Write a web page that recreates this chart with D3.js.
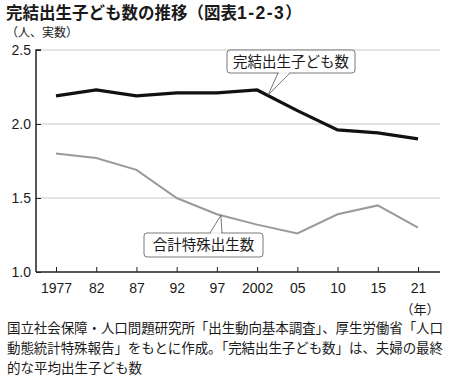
<!DOCTYPE html>
<html>
<head>
<meta charset="utf-8">
<script src="https://cdn.jsdelivr.net/npm/d3@7"></script>
<style>
  body { margin: 0; background: #fff; }
  text { font-family: "Liberation Sans", "Noto Sans CJK JP", sans-serif; fill: #1a1a1a; }
  .jp { font-family: "Noto Sans CJK JP", sans-serif; }
</style>
</head>
<body>
<div id="chart"></div>
<script>
// data
const years = ["1977", "82", "87", "92", "97", "2002", "05", "10", "15", "21"];
const completedFertility = [2.19, 2.23, 2.19, 2.21, 2.21, 2.23, 2.09, 1.96, 1.94, 1.90];
const totalFertility = [1.80, 1.77, 1.69, 1.50, 1.39, 1.32, 1.26, 1.39, 1.45, 1.30];
const yTicks = [1.0, 1.5, 2.0, 2.5];
const noteLines = [
  "国立社会保障・人口問題研究所「出生動向基本調査」、厚生労働省「人口",
  "動態統計特殊報告」をもとに作成。「完結出生子ども数」は、夫婦の最終",
  "的な平均出生子ども数"
];

var width = 450, height = 376;
var svg = d3.select("#chart").append("svg")
    .attr("width", width)
    .attr("height", height);

let x = d3.scalePoint().domain(years).range([56, 418]);
let y = d3.scaleLinear().domain([1.0, 2.5]).range([272, 50]);
let axisLeft = 36, axisRight = 440;

// title
let title = svg.append("text")
    .attr("class", "jp")
    .attr("x", 6).attr("y", 19)
    .style("font-size", "16.5px")
    .style("font-weight", "bold");
title.append("tspan").text("完結出生子ども数の推移（図表");
title.append("tspan").style("font-family", "Liberation Sans").style("font-size", "17.5px")
    .attr("letter-spacing", "1.5").text("1-2-3");
title.append("tspan").text("）");
svg.append("text")
    .attr("class", "jp")
    .attr("x", 6).attr("y", 37)
    .style("font-size", "12px")
    .text("（人、実数）");

// gridlines
svg.selectAll(".grid")
    .data(yTicks.filter(d => d > 1.0))
    .enter().append("line")
    .attr("x1", axisLeft).attr("x2", axisRight)
    .attr("y1", d => y(d)).attr("y2", d => y(d))
    .style("stroke", "#c8c8c8")
    .style("stroke-width", 1);

// y axis
let yAxis = svg.append("g")
    .attr("transform", `translate(${axisLeft},0)`)
    .call(d3.axisRight(y).tickValues(yTicks).tickFormat(d3.format(".1f")).tickSize(5));
yAxis.select(".domain").style("stroke", "#222").style("stroke-width", 1.5).attr("d", `M5,${y(2.5)}H0V${y(1.0)}`);
yAxis.selectAll(".tick line").style("stroke", "#222");
yAxis.selectAll(".tick text")
    .attr("x", -5)
    .attr("dy", "0.35em")
    .attr("text-anchor", "end")
    .style("font-size", "14px")
    .style("fill", "#1a1a1a");

// x axis
let xAxis = svg.append("g")
    .attr("transform", `translate(0,${y(1.0)})`)
    .call(d3.axisTop(x).tickSize(5));
xAxis.select(".domain").style("stroke", "#222").style("stroke-width", 1.5).attr("d", `M${axisLeft},0H${axisRight}`);
xAxis.selectAll(".tick line").style("stroke", "#222");
xAxis.selectAll(".tick text")
    .attr("y", 21)
    .attr("dy", 0)
    .style("font-size", "14px")
    .style("fill", "#1a1a1a");
svg.append("text")
    .attr("class", "jp")
    .attr("x", 420).attr("y", 314)
    .attr("text-anchor", "middle")
    .style("font-size", "13px")
    .text("（年）");

// lines
let line = d3.line()
    .x((d, i) => x(years[i]))
    .y(d => y(d));
svg.append("path")
    .datum(totalFertility)
    .attr("d", line)
    .style("fill", "none")
    .style("stroke", "#9a9a9a")
    .style("stroke-width", 2);
svg.append("path")
    .datum(completedFertility)
    .attr("d", line)
    .style("fill", "none")
    .style("stroke", "#111")
    .style("stroke-width", 3.2);

// callouts
function callout(label, box, tail, tip) {
    let g = svg.append("g");
    g.append("path")
        .attr("d", `M${tail[0]},${tail[2]}L${tip[0]},${tip[1]}L${tail[1]},${tail[2]}`)
        .style("fill", "#fff")
        .style("stroke", "#555")
        .style("stroke-width", 0.8);
    g.append("rect")
        .attr("x", box.x).attr("y", box.y)
        .attr("width", box.w).attr("height", box.h)
        .attr("rx", 3)
        .style("fill", "#fff")
        .style("stroke", "#555")
        .style("stroke-width", 0.8);
    // cover the join between tail and box
    g.append("line")
        .attr("x1", tail[0] + 0.8).attr("x2", tail[1] - 0.8)
        .attr("y1", tail[2]).attr("y2", tail[2])
        .style("stroke", "#fff")
        .style("stroke-width", 1.6);
    g.append("text")
        .attr("class", "jp")
        .attr("x", box.x + box.w / 2)
        .attr("y", box.y + box.h / 2)
        .attr("dy", "0.36em")
        .attr("text-anchor", "middle")
        .style("font-size", "14.5px")
        .text(label);
}
callout("完結出生子ども数", { x: 227, y: 50, w: 128, h: 23 }, [278, 290, 73],
    [x("2002") + 11, y(completedFertility[5]) + 5]);
callout("合計特殊出生数", { x: 144, y: 233, w: 119, h: 24 }, [210, 222, 233],
    [x("97") + 4, y(totalFertility[4]) + 1]);

// note
svg.selectAll(".note")
    .data(noteLines)
    .enter().append("text")
    .attr("class", "jp")
    .attr("x", 7)
    .attr("y", (d, i) => 333 + i * 20)
    .attr("textLength", (d, i) => i < 2 ? 436 : null)
    .attr("lengthAdjust", "spacing")
    .style("font-size", "13.5px")
    .text(d => d);
</script>
</body>
</html>
